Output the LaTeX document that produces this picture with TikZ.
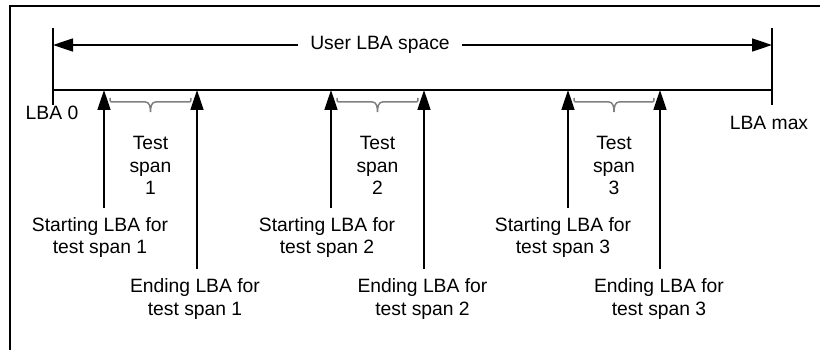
\documentclass[tikz,border=0pt]{standalone}
\usepackage{fontspec}
\setmainfont{Liberation Sans}
\usetikzlibrary{arrows.meta,calc}
\newcommand{\spanbrace}[2]{%
  \draw[gray,line width=1.5pt] ($(#1)+(6,8)$) .. controls ($(#1)+(6,12)$) .. ($(#1)+(10,12)$)
    -- ($(#1)!0.5!(#2)+(-5,12)$) .. controls ($(#1)!0.5!(#2)+(-1,12)$) and ($(#1)!0.5!(#2)+(0,17)$) .. ($(#1)!0.5!(#2)+(0,22)$)
    .. controls ($(#1)!0.5!(#2)+(0,17)$) and ($(#1)!0.5!(#2)+(1,12)$) .. ($(#1)!0.5!(#2)+(5,12)$)
    -- ($(#2)+(-10,12)$) .. controls ($(#2)+(-6,12)$) .. ($(#2)+(-6,8)$);}

\begin{document}
\begin{tikzpicture}[x=1pt,y=-1pt,line width=1.6pt,
	every node/.style={font=\fontsize{19.3}{22.5}\selectfont,align=center,inner sep=0pt},
	>={Triangle[length=20pt,width=13pt]}]
	\useasboundingbox (0,0) rectangle (820,350);
	\draw (10,350) -- (10,6) -- (820,6);
	\coordinate (lt) at (53,28);
	\coordinate (lb) at (53,105);
	\coordinate (rt) at (772,28);
	\coordinate (rb) at (772,105);
	\coordinate (ul) at (53,45);
	\coordinate (ur) at (772,45);
	\coordinate (l0) at (53,90);
	\coordinate (lmax) at (772,90);
	\draw (lt) -- (lb);
	\draw (rt) -- (rb);
	\draw (l0) -- (lmax);
	\node [inner xsep=11pt] (space) at (380,45) {User LBA space};
	\draw [->] (space.west) -- (ul);
	\draw [->] (space.east) -- (ur);
	\node (lba0) at (52,113) {LBA 0};
	\node (lbamax) at (769,123) {LBA max};
	\coordinate (a1) at (104,90);
	\coordinate (b1) at (197,90);
	\coordinate (a2) at (331,90);
	\coordinate (b2) at (424,90);
	\coordinate (a3) at (568,90);
	\coordinate (b3) at (660,90);
	\coordinate (fa1) at (104,208);
	\coordinate (fb1) at (197,269);
	\coordinate (fa2) at (331,208);
	\coordinate (fb2) at (424,269);
	\coordinate (fa3) at (568,208);
	\coordinate (fb3) at (660,269);
	\draw [->] (fa1) -- (a1);
	\draw [->] (fb1) -- (b1);
	\draw [->] (fa2) -- (a2);
	\draw [->] (fb2) -- (b2);
	\draw [->] (fa3) -- (a3);
	\draw [->] (fb3) -- (b3);
	\spanbrace{a1}{b1}
	\spanbrace{a2}{b2}
	\spanbrace{a3}{b3}
	\node (t1) at (150.5,165.5) {Test\\span\\1};
	\node (t2) at (377.5,165.5) {Test\\span\\2};
	\node (t3) at (614,165.5) {Test\\span\\3};
	\node (s1) at (100,237.5) {Starting LBA for\\test span 1};
	\node (s2) at (327,237.5) {Starting LBA for\\test span 2};
	\node (s3) at (563,237.5) {Starting LBA for\\test span 3};
	\node (e1) at (195,299) {Ending LBA for\\test span 1};
	\node (e2) at (422.5,299) {Ending LBA for\\test span 2};
	\node (e3) at (659,299) {Ending LBA for\\test span 3};
\end{tikzpicture}
\end{document}
